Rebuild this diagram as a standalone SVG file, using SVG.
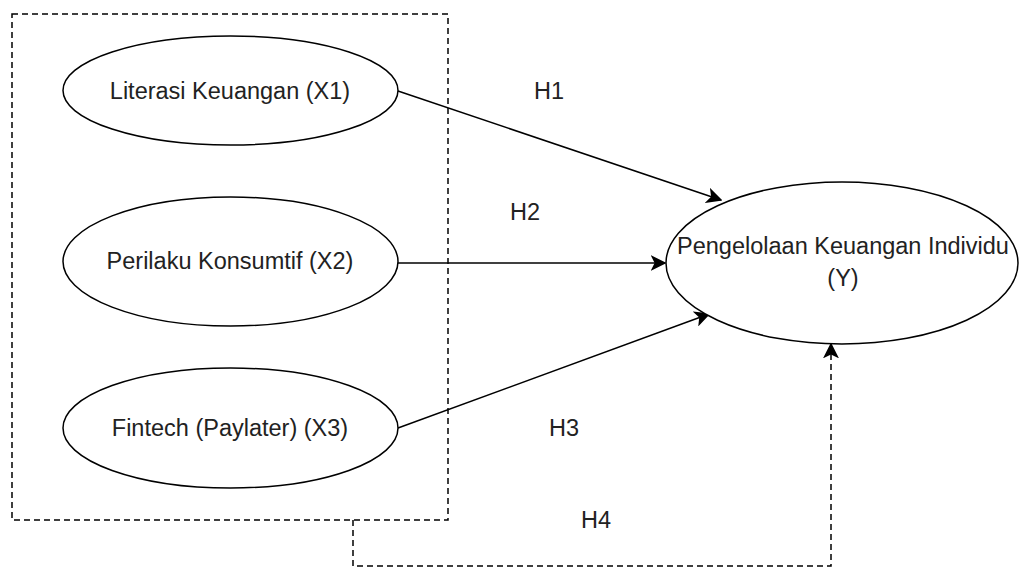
<svg xmlns="http://www.w3.org/2000/svg" width="1019" height="568" viewBox="0 0 1019 568">
<defs>
<style>
.node{fill:#fff;stroke:#000;stroke-width:1.5}
.lbl{font-family:"Liberation Sans",Arial,sans-serif;font-size:23.5px;fill:#222;text-anchor:middle}
.edge{fill:none;stroke:#000;stroke-width:1.5}
.dash{fill:none;stroke:#000;stroke-width:1.5;stroke-dasharray:6 4}
</style>
<marker id="arr" viewBox="0 0 10 10" refX="9" refY="5" markerWidth="7" markerHeight="7" markerUnits="userSpaceOnUse" orient="auto">
<path d="M0,0 L10,5 L0,10 L2.5,5 Z" fill="#000"/>
</marker>
<marker id="arrb" viewBox="0 0 10 10" refX="9" refY="5" markerWidth="16" markerHeight="16" markerUnits="userSpaceOnUse" orient="auto">
<path d="M0,0 L10,5 L0,10 L2.5,5 Z" fill="#000"/>
</marker>
</defs>
<rect width="1019" height="568" fill="#fff"/>
<g id="group-box">
<rect x="12" y="14" width="436" height="506" class="dash"/>
</g>
<g id="connectors">
<line x1="398" y1="91" x2="721" y2="200" class="edge" marker-end="url(#arrb)"/>
<line x1="398" y1="263" x2="665" y2="263" class="edge" marker-end="url(#arrb)"/>
<line x1="398" y1="428" x2="709" y2="314" class="edge" marker-end="url(#arrb)"/>
<polyline points="353,520 353,566 831,566 831,344" class="dash" marker-end="url(#arrb)"/>
</g>
<g id="x1">
<ellipse cx="230.5" cy="90.5" rx="167.5" ry="54.5" class="node"/>
<text x="230" y="99" class="lbl">Literasi Keuangan (X1)</text>
</g>
<g id="x2">
<ellipse cx="230.5" cy="261.5" rx="167.5" ry="64.5" class="node"/>
<text x="230" y="269" class="lbl">Perilaku Konsumtif (X2)</text>
</g>
<g id="x3">
<ellipse cx="230.5" cy="428" rx="167.5" ry="60" class="node"/>
<text x="230" y="436" class="lbl">Fintech (Paylater) (X3)</text>
</g>
<g id="y">
<ellipse cx="842" cy="263" rx="176" ry="81" class="node"/>
<text x="843" y="254" class="lbl">Pengelolaan Keuangan Individu</text>
<text x="843" y="286" class="lbl">(Y)</text>
</g>
<g id="labels">
<text x="549" y="99" class="lbl">H1</text>
<text x="525" y="220" class="lbl">H2</text>
<text x="564" y="436" class="lbl">H3</text>
<text x="596" y="528" class="lbl">H4</text>
</g>
</svg>
